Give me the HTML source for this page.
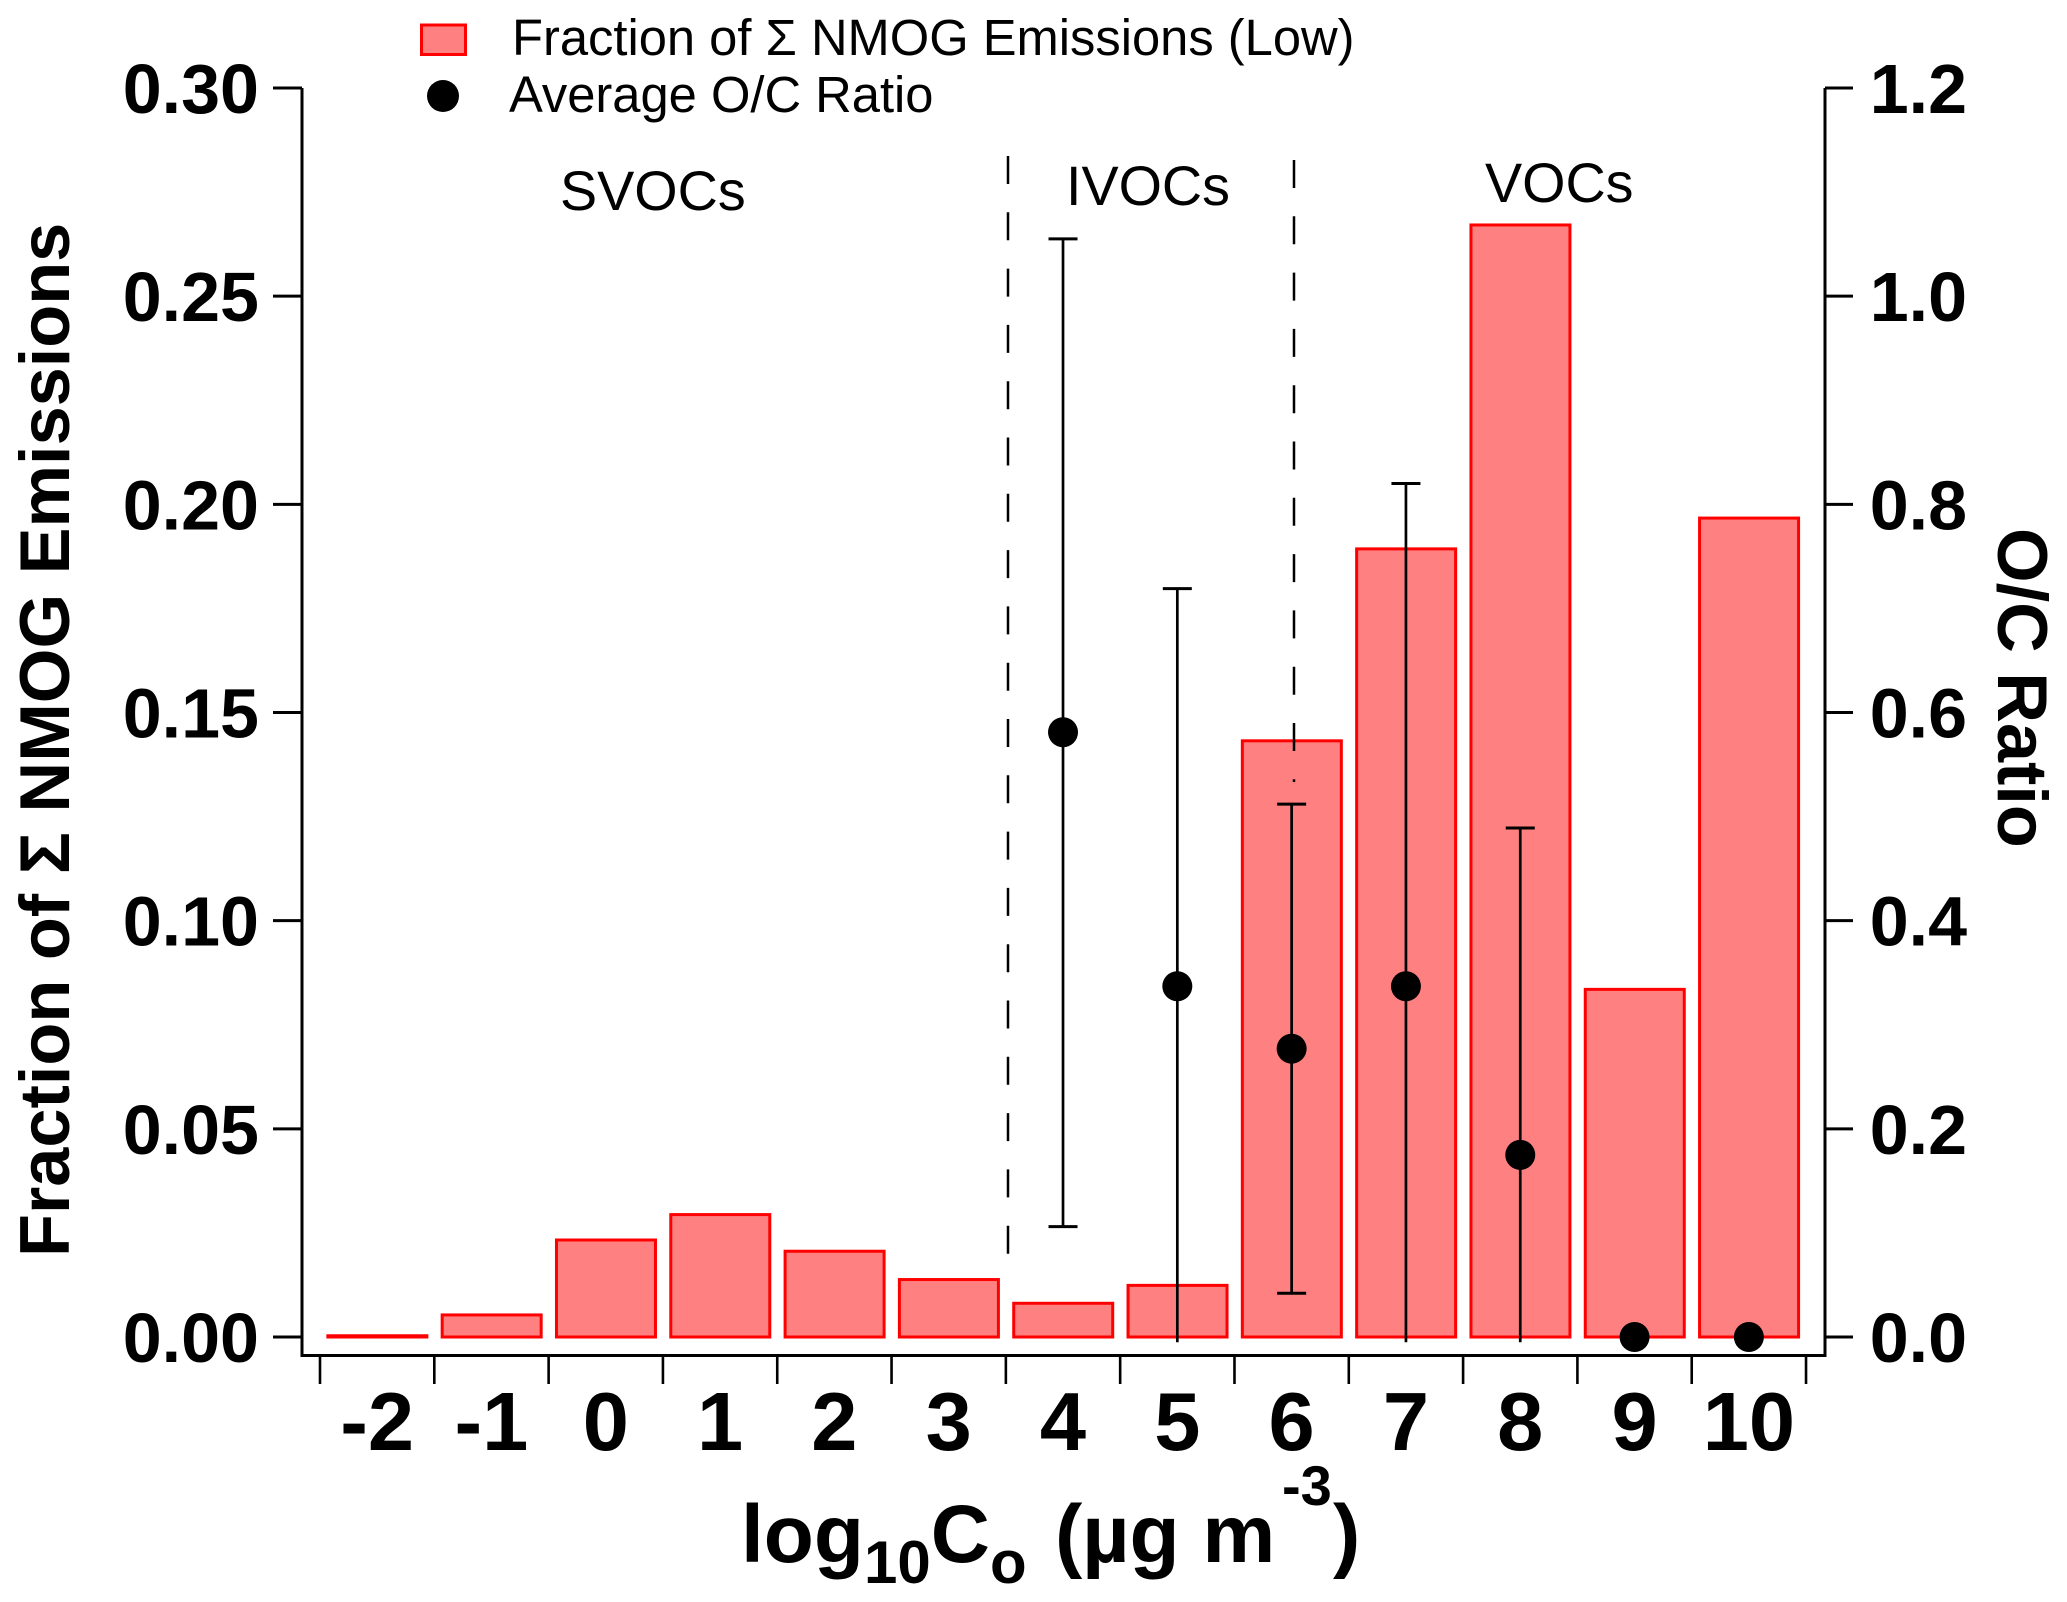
<!DOCTYPE html>
<html>
<head>
<meta charset="utf-8">
<title>Fraction of NMOG Emissions and O/C Ratio</title>
<style>
html,body{margin:0;padding:0;background:#fff;}
svg{display:block;}
text{font-family:"Liberation Sans",Arial,sans-serif;fill:#000;}
.b{font-weight:bold;}
</style>
</head>
<body>
<svg id="chart" xmlns="http://www.w3.org/2000/svg" width="2067" height="1602" viewBox="0 0 2067 1602">
  <rect x="0" y="0" width="2067" height="1602" fill="#fff"/>
  <g id="bars"></g>
  <g id="dividers"></g>
  <g id="errors"></g>
  <g id="points"></g>
  <g id="axes"></g>

  <text class="b" font-size="70.3" transform="translate(69,1257) rotate(-90)">Fraction of Σ NMOG Emissions</text>
  <text class="b" font-size="70.2" transform="translate(1998,528) rotate(90)">O/C Ratio</text>
  <text class="b" font-size="82" x="741" y="1562">log<tspan font-size="60" dy="21">10</tspan><tspan font-size="82" dy="-21">C</tspan><tspan font-size="60" dy="21">o</tspan><tspan font-size="82" x="1055" y="1562">(µg m</tspan><tspan font-size="56" x="1282" y="1505">-3</tspan><tspan font-size="82" x="1333" y="1562">)</tspan></text>

  <text font-size="55.7" x="560" y="210">SVOCs</text>
  <text font-size="55.7" x="1066" y="205">IVOCs</text>
  <text font-size="55.7" x="1485" y="202">VOCs</text>

  <g>
    <rect x="421.5" y="25" width="44" height="29.5" fill="#ff8080" stroke="#ff0000" stroke-width="3"/>
    <text font-size="50.7" x="512" y="55">Fraction of Σ NMOG Emissions (Low)</text>
    <circle cx="443" cy="96" r="16" fill="#000"/>
    <text font-size="50.7" x="509" y="112">Average O/C Ratio</text>
  </g>
</svg>
<script>
// Chart data
const categories = ["-2","-1","0","1","2","3","4","5","6","7","8","9","10"];
const emissionFraction = [0.0003,0.0053,0.0233,0.0294,0.0206,0.0138,0.0081,0.0124,0.1432,0.1893,0.2671,0.0835,0.1967];
const ocCategories = ["4","5","6","7","8","9","10"];
const ocRatio = [0.581,0.337,0.277,0.337,0.175,0,0];
const ocErrorHigh = [1.055,0.719,0.512,0.82,0.489,null,null];
const ocErrorLow = [0.106,-0.005,0.042,-0.005,-0.005,null,null];
const yTickLabels = ["0.00","0.05","0.10","0.15","0.20","0.25","0.30"];
const y2TickLabels = ["0.0","0.2","0.4","0.6","0.8","1.0","1.2"];

const NS = "http://www.w3.org/2000/svg";
const plotBottom = 1337, plotTop = 88;
const yMax = 0.30, y2Max = 1.2;
const xStart = 320, xStep = 114.31;

function yScale(v){ return plotBottom - (v / yMax) * (plotBottom - plotTop); }
function y2Scale(v){ return plotBottom - (v / y2Max) * (plotBottom - plotTop); }
function xEdge(i){ return xStart + i * xStep; }
function xCenter(label){ return xEdge(categories.indexOf(label) + 0.5); }

function make(tag, parent, attrs){
  const el = document.createElementNS(NS, tag);
  for (const k in attrs) el.setAttribute(k, attrs[k]);
  parent.appendChild(el);
  return el;
}

const axesG = document.getElementById("axes");
const barsG = document.getElementById("bars");
const errorsG = document.getElementById("errors");
const pointsG = document.getElementById("points");
const dividersG = document.getElementById("dividers");

// Bars
categories.forEach(function(c, i){
  const top = yScale(emissionFraction[i]);
  const r = make("rect", barsG, {x: xCenter(c) - 49.3, y: top, width: 99, height: Math.max(plotBottom - top, 0.3), fill: "#ff8080", stroke: "#ff0000", "stroke-width": 3});
  
  
});

// Dashed volatility dividers
[[1008, 156, 1255], [1294, 160, 782]].forEach(function(d){
  const l = make("line", dividersG, {x1: d[0], x2: d[0], y1: d[1], y2: d[2], stroke: "#000", "stroke-width": 2.5, "stroke-dasharray": "28 28.3"});
  
  
});

// Error bars and points
ocCategories.forEach(function(c, i){
  const x = xCenter(c);
  if (ocErrorHigh[i] !== null) {
    const yh = y2Scale(ocErrorHigh[i]);
    const yl = y2Scale(ocErrorLow[i]);
    const stem = make("line", errorsG, {x1: x, x2: x, y1: yh, y2: yl, stroke: "#000", "stroke-width": 2.7});
    
    
    const capHigh = make("line", errorsG, {x1: x - 14.5, x2: x + 14.5, y1: yh, y2: yh, stroke: "#000", "stroke-width": 3});
    
    
    if (ocErrorLow[i] >= 0) {
      const capLow = make("line", errorsG, {x1: x - 14.5, x2: x + 14.5, y1: yl, y2: yl, stroke: "#000", "stroke-width": 3});
      
      
    }
  }
  const p = make("circle", pointsG, {cx: x, cy: y2Scale(ocRatio[i]), r: 15, fill: "#000"});
  
  
});

// Spines
[[302, 88, 302, 1356], [1825, 88, 1825, 1356], [300.5, 1355.5, 1826.5, 1355.5]].forEach(function(s){
  const l = make("line", axesG, {x1: s[0], y1: s[1], x2: s[2], y2: s[3], stroke: "#000", "stroke-width": 3});
  
  
});

// Left axis ticks
yTickLabels.forEach(function(t){
  const y = yScale(parseFloat(t));
  const tk = make("line", axesG, {x1: 273, x2: 302, y1: y, y2: y, stroke: "#000", "stroke-width": 3});
  
  
  const lb = make("text", axesG, {x: 259, y: y + 25, "text-anchor": "end", "font-size": 70, "font-weight": "bold"});
  lb.textContent = t;
  
  
});

// Right axis ticks
y2TickLabels.forEach(function(t){
  const y = y2Scale(parseFloat(t));
  const tk = make("line", axesG, {x1: 1825, x2: 1853, y1: y, y2: y, stroke: "#000", "stroke-width": 3});
  
  
  const lb = make("text", axesG, {x: 1967, y: y + 25, "text-anchor": "end", "font-size": 70, "font-weight": "bold"});
  lb.textContent = t;
  
  
});

// X axis ticks and labels
for (let i = 0; i <= categories.length; i++) {
  const tk = make("line", axesG, {x1: xEdge(i), x2: xEdge(i), y1: 1356, y2: 1384, stroke: "#000", "stroke-width": 2.6});
  
  
}
categories.forEach(function(c){
  const lb = make("text", axesG, {x: xCenter(c), y: 1450, "text-anchor": "middle", "font-size": 83, "font-weight": "bold"});
  lb.textContent = c;
  
  
});
</script>
</body>
</html>
